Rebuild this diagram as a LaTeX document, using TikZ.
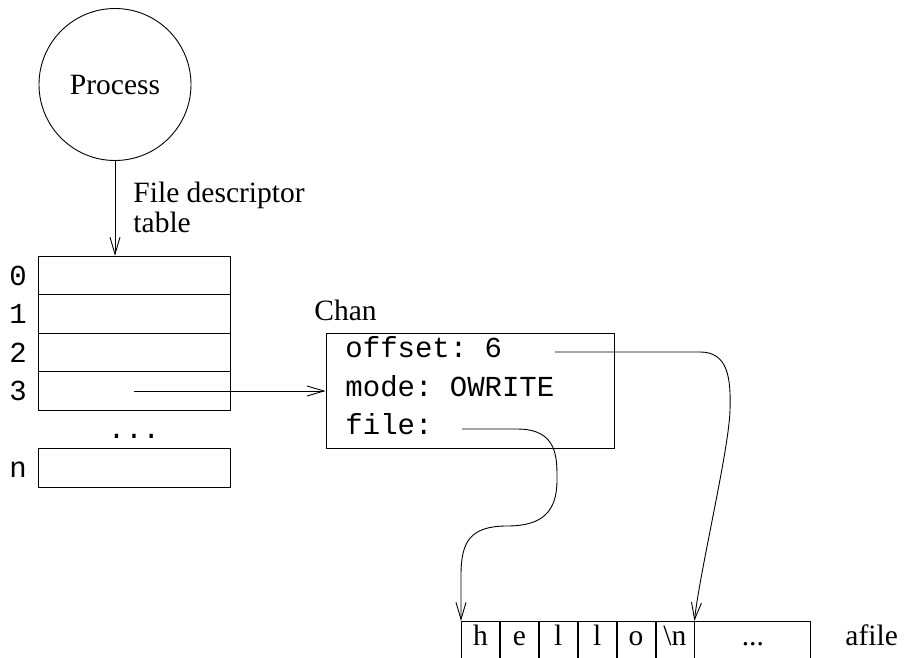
\documentclass[tikz,border=0pt]{standalone}
\usepackage{fontspec}
\setmainfont{Liberation Serif}
\setmonofont{Liberation Mono}
\usetikzlibrary{arrows.meta}
\begin{document}
\begin{tikzpicture}[x=1pt,y=-1pt,line width=0.9pt,
  serif/.style={inner sep=0pt,font=\fontsize{29.5}{30}\selectfont},
  mono/.style={inner sep=0pt,font=\fontsize{29}{31}\selectfont\ttfamily},
  slot/.style={draw,minimum width=192pt,minimum height=38.5pt,inner sep=0pt},
  cell/.style={draw,minimum height=70pt,inner sep=0pt,anchor=north west},
  arr/.style={-{Straight Barb[length=17pt,width=10pt,line width=0.9pt]}}]
\useasboundingbox (0,0) rectangle (905,658);
\clip (0,0) rectangle (905,658);
% process
\node[draw,circle,minimum size=152pt,inner sep=0pt,serif] (proc) at (115,84.5) {Process};
\node[serif,anchor=base west,align=left] (fdt) at (133,232) {File descriptor\\table};
% table
\node[slot] (r0) at (134,275.5) {};
\node[slot] (r1) at (134,314) {};
\node[slot] (r2) at (134,352.5) {};
\node[slot] (r3) at (134,391) {};
\node[slot] (rn) at (134,468) {};
\node[mono,anchor=base] (l0) at (18,285) {0};
\node[mono,anchor=base] (l1) at (18,323.5) {1};
\node[mono,anchor=base] (l2) at (18,362) {2};
\node[mono,anchor=base] (l3) at (18,400.5) {3};
\node[mono,anchor=base] (ln) at (18,477.5) {n};
\node[mono,anchor=base] (dots) at (134,438) {...};
\draw[arr] (proc.south) -- (proc.south |- r0.north);
% chan
\node[serif,anchor=base west] (chanl) at (314,320) {Chan};
\node[draw,minimum width=288pt,minimum height=115pt,inner sep=0pt] (chan) at (470,390.5) {};
\node[mono,anchor=base west] (off) at (345,357) {offset: 6};
\node[mono,anchor=base west] (mode) at (345,396) {mode: OWRITE};
\node[mono,anchor=base west] (file) at (345,434) {file:};
\draw[arr] (r3.center) -- (chan.west |- r3.center);
% file cells
\node[cell,minimum width=38pt] (c1) at (461,621) {};
\node[cell,minimum width=38pt] (c2) at (c1.north east) {};
\node[cell,minimum width=38pt] (c3) at (c2.north east) {};
\node[cell,minimum width=38pt] (c4) at (c3.north east) {};
\node[cell,minimum width=38pt] (c5) at (c4.north east) {};
\node[cell,minimum width=38pt] (c6) at (c5.north east) {};
\node[cell,minimum width=116pt] (c7) at (c6.north east) {};
\node[serif,anchor=base] (t1) at ([yshift=-24pt]c1.north) {h};
\node[serif,anchor=base] (t2) at ([yshift=-24pt]c2.north) {e};
\node[serif,anchor=base] (t3) at ([yshift=-24pt]c3.north) {l};
\node[serif,anchor=base] (t4) at ([yshift=-24pt]c4.north) {l};
\node[serif,anchor=base] (t5) at ([yshift=-24pt]c5.north) {o};
\node[serif,anchor=base] (t6) at ([yshift=-24pt]c6.north) {\textbackslash n};
\node[serif,anchor=base] (t7) at ([yshift=-24pt]c7.north) {...};
\node[serif,anchor=base west] (afile) at (845,645) {afile};
% connectors
\coordinate (o1) at (555,352);
\coordinate (f1) at (462,429);
\draw[arr] (o1) -- (700,352) .. controls (728,352) and (731,378) .. (730,410)
  .. controls (729,450) and (700,570) .. (c6.north east);
\draw[arr] (f1) -- (517,429) .. controls (558,429) and (557,458) .. (557,480)
  .. controls (557,512) and (542,526) .. (507,526)
  .. controls (470,526) and (461,542) .. (461,575) -- (c1.north west);
\end{tikzpicture}
\end{document}
